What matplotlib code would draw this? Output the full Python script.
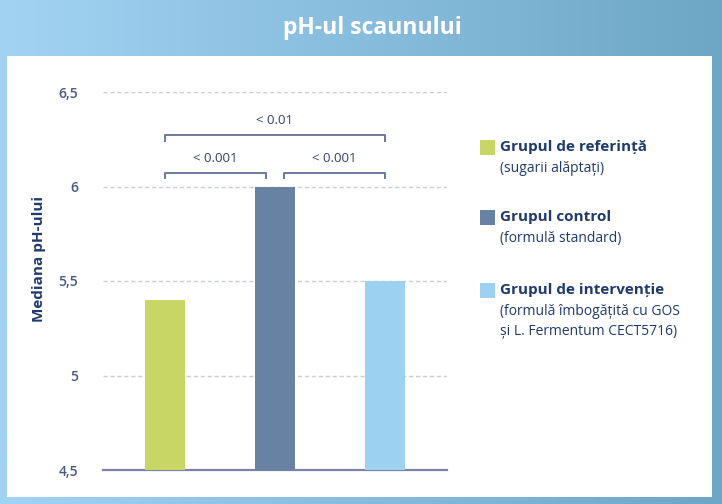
import numpy as np
import matplotlib
matplotlib.use("Agg")
import matplotlib.pyplot as plt
from matplotlib.patches import Rectangle
from matplotlib.colors import LinearSegmentedColormap

plt.rcParams['font.family'] = ['Open Sans', 'DejaVu Sans']

# data
groups = ["Grupul de referință", "Grupul control", "Grupul de intervenție"]
subtitles = ["(sugarii alăptați)", "(formulă standard)",
             "(formulă îmbogățită cu GOS\nși L. Fermentum CECT5716)"]
ph_median = [5.4, 6.0, 5.5]
colors = ["#c8d665", "#6782a3", "#9dd1f1"]
yticks = [4.5, 5, 5.5, 6, 6.5]
ytick_labels = ["4,5", "5", "5,5", "6", "6,5"]
# (left group, right group, label, level)
pvals = [(0, 0.92, "< 0.001", 6.07), (1.08, 2, "< 0.001", 6.07), (0, 2, "< 0.01", 6.27)]

W, H = 722, 504
fig = plt.figure(figsize=(W / 100, H / 100), dpi=100)

# background frame with gradient
bg = fig.add_axes([0, 0, 1, 1])
grad = np.linspace(0, 1, 256)[None, :]
cmap = LinearSegmentedColormap.from_list("frame", ["#a2d3f3", "#6ea6c6"])
bg.imshow(grad, aspect="auto", cmap=cmap, extent=[0, W, 0, H])
bg.add_patch(Rectangle((7, 7), 705, 441, facecolor="white", edgecolor="none"))
bg.set_xlim(0, W)
bg.set_ylim(0, H)
bg.axis("off")
fig.text(372 / W, 1 - 28 / H, "pH-ul scaunului", color="white", fontsize=16.5,
         fontweight="bold", ha="center", va="center")

# main chart
ax = fig.add_axes([103 / W, 34 / H, 344 / W, 378 / H])
ax.patch.set_alpha(0)
x = np.arange(len(ph_median))
ax.bar(x, [v - 4.5 for v in ph_median], 0.364, bottom=4.5, color=colors, zorder=3)
ax.set_xlim(-0.5636, 2.5636)
ax.set_ylim(4.5, 6.5)
ax.set_yticks(yticks)
ax.set_yticklabels(ytick_labels, color="#4b5a85", fontsize=10, fontweight="semibold")
ax.tick_params(axis="y", length=0, pad=18)
ax.set_xticks([])
for y in yticks[1:]:
    ax.axhline(y, color="#c9cdd8", lw=1, ls=(0, (3, 2)), zorder=1)
for s in ["top", "right", "left"]:
    ax.spines[s].set_visible(False)
ax.spines["bottom"].set_color("#7c82a6")
ax.spines["bottom"].set_linewidth(1.6)
ax.set_ylabel("Mediana pH-ului", color="#1f3a6e", fontsize=11,
              fontweight="bold")
ax.yaxis.set_label_coords(-0.165, 0.558)

for x0, x1, lab, lvl in pvals:
    ax.plot([x0, x0, x1, x1], [lvl - 0.027, lvl, lvl, lvl - 0.027],
            color="#6a7a9c", lw=1.4, clip_on=False)
    ax.text((x0 + x1) / 2, lvl + 0.08, lab, ha="center", va="center",
            fontsize=9.5, color="#34426a")

# legend
leg_y = [147, 217, 290]
for i in range(len(groups)):
    y = 1 - leg_y[i] / H
    fig.patches.append(Rectangle((480 / W, y - 8 / H), 15 / W, 15 / H,
                                 facecolor=colors[i], edgecolor="none",
                                 transform=fig.transFigure))
    fig.text(500 / W, y, groups[i], fontsize=11, fontweight="bold",
             color="#1f3a6e", va="center", ha="left")
    fig.text(500 / W, y - 14 / H, subtitles[i], fontsize=10, color="#1f3a6e",
             va="top", ha="left", linespacing=1.45)

fig.savefig("out.png", dpi=100)
